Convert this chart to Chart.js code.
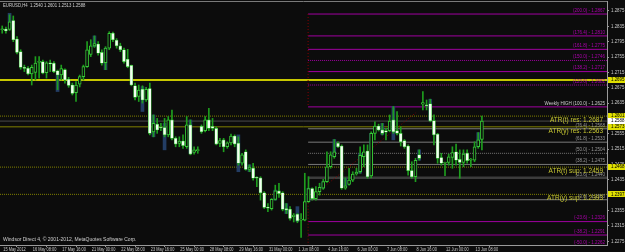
<!DOCTYPE html>
<html>
<head>
<meta charset="utf-8">
<script src="https://cdn.jsdelivr.net/npm/chart.js@4.4.1/dist/chart.umd.min.js"></script>
<style>
  html, body { margin: 0; padding: 0; background: #0c0c0c; overflow: hidden; }
  #wrap { width: 625px; height: 252px; position: relative; }
</style>
</head>
<body>
<div id="wrap"><canvas id="myChart"></canvas></div>
<script>
// EURUSD H4, 15 May 2012 - 13 Jun 2012
const tickLabels = ["15 May 2012", "16 May 08:00", "17 May 16:00", "21 May 00:00", "22 May 08:00", "23 May 16:00",
  "25 May 00:00", "28 May 08:00", "29 May 16:00", "31 May 00:00", "1 Jun 08:00", "4 Jun 16:00", "6 Jun 00:00",
  "7 Jun 08:00", "8 Jun 16:00", "12 Jun 00:00", "13 Jun 08:00"];

const opens = [1.2826, 1.2828, 1.2827, 1.2850, 1.2802, 1.2769, 1.2728, 1.2726, 1.2711, 1.2715,
  1.2741, 1.2743, 1.2714, 1.2740, 1.2739, 1.2719, 1.2708, 1.2722, 1.2697, 1.2682,
  1.2662, 1.2684, 1.2704, 1.2730, 1.2762, 1.2784, 1.2789, 1.2767, 1.2740, 1.2778,
  1.2817, 1.2799, 1.2784, 1.2774, 1.2749, 1.2733, 1.2680, 1.2652, 1.2671, 1.2643,
  1.2673, 1.2560, 1.2580, 1.2572, 1.2571, 1.2552, 1.2591, 1.2543, 1.2530, 1.2536,
  1.2521, 1.2578, 1.2506, 1.2511, 1.2574, 1.2563, 1.2591, 1.2574, 1.2569, 1.2530,
  1.2539, 1.2521, 1.2531, 1.2549, 1.2530, 1.2478, 1.2508, 1.2462, 1.2465, 1.2441,
  1.2440, 1.2401, 1.2363, 1.2360, 1.2384, 1.2406, 1.2401, 1.2360, 1.2358, 1.2339,
  1.2345, 1.2330, 1.2330, 1.2378, 1.2412, 1.2386, 1.2404, 1.2413, 1.2430, 1.2469,
  1.2495, 1.2530, 1.2523, 1.2413, 1.2423, 1.2434, 1.2450, 1.2456, 1.2495, 1.2510,
  1.2445, 1.2556, 1.2575, 1.2565, 1.2563, 1.2563, 1.2591, 1.2563, 1.2556, 1.2537,
  1.2523, 1.2459, 1.2443, 1.2500, 1.2632, 1.2630, 1.2633, 1.2589, 1.2554, 1.2493,
  1.2478, 1.2480, 1.2493, 1.2508, 1.2488, 1.2480, 1.2504, 1.2486, 1.2486, 1.2521,
  1.2540];
const highs = [1.2836, 1.2833, 1.2865, 1.2862, 1.2808, 1.2774, 1.2734, 1.2730, 1.2734, 1.2756,
  1.2756, 1.2747, 1.2743, 1.2747, 1.2743, 1.2721, 1.2734, 1.2724, 1.2702, 1.2687,
  1.2691, 1.2708, 1.2734, 1.2795, 1.2800, 1.2810, 1.2795, 1.2774, 1.2782, 1.2821,
  1.2820, 1.2803, 1.2791, 1.2778, 1.2775, 1.2734, 1.2687, 1.2682, 1.2680, 1.2676,
  1.2687, 1.2604, 1.2595, 1.2582, 1.2595, 1.2600, 1.2617, 1.2547, 1.2547, 1.2552,
  1.2600, 1.2591, 1.2521, 1.2521, 1.2578, 1.2600, 1.2621, 1.2595, 1.2573, 1.2543,
  1.2543, 1.2534, 1.2554, 1.2552, 1.2547, 1.2504, 1.2513, 1.2474, 1.2478, 1.2443,
  1.2443, 1.2404, 1.2373, 1.2386, 1.2421, 1.2426, 1.2404, 1.2373, 1.2365, 1.2347,
  1.2347, 1.2347, 1.2452, 1.2443, 1.2414, 1.2417, 1.2426, 1.2436, 1.2508, 1.2508,
  1.2540, 1.2534, 1.2526, 1.2440, 1.2465, 1.2456, 1.2465, 1.2521, 1.2526, 1.2526,
  1.2560, 1.2586, 1.2580, 1.2582, 1.2569, 1.2604, 1.2626, 1.2613, 1.2573, 1.2540,
  1.2526, 1.2482, 1.2491, 1.2513, 1.2665, 1.2643, 1.2645, 1.2604, 1.2556, 1.2504,
  1.2481, 1.2502, 1.2521, 1.2528, 1.2513, 1.2513, 1.2513, 1.2491, 1.2534, 1.2558,
  1.2601];
const lows = [1.2817, 1.2817, 1.2824, 1.2795, 1.2763, 1.2723, 1.2717, 1.2708, 1.2682, 1.2695,
  1.2700, 1.2711, 1.2700, 1.2717, 1.2714, 1.2670, 1.2695, 1.2687, 1.2676, 1.2656,
  1.2639, 1.2677, 1.2695, 1.2728, 1.2756, 1.2780, 1.2760, 1.2734, 1.2722, 1.2774,
  1.2795, 1.2778, 1.2769, 1.2739, 1.2727, 1.2680, 1.2643, 1.2639, 1.2635, 1.2639,
  1.2552, 1.2547, 1.2556, 1.2563, 1.2547, 1.2547, 1.2539, 1.2521, 1.2521, 1.2517,
  1.2517, 1.2500, 1.2502, 1.2504, 1.2556, 1.2560, 1.2563, 1.2563, 1.2526, 1.2521,
  1.2508, 1.2517, 1.2526, 1.2521, 1.2473, 1.2473, 1.2460, 1.2456, 1.2434, 1.2417,
  1.2382, 1.2360, 1.2352, 1.2356, 1.2382, 1.2389, 1.2354, 1.2347, 1.2330, 1.2325,
  1.2323, 1.2285, 1.2328, 1.2376, 1.2382, 1.2382, 1.2395, 1.2410, 1.2428, 1.2465,
  1.2491, 1.2519, 1.2410, 1.2410, 1.2421, 1.2430, 1.2447, 1.2452, 1.2469, 1.2439,
  1.2440, 1.2539, 1.2562, 1.2552, 1.2539, 1.2560, 1.2556, 1.2552, 1.2523, 1.2517,
  1.2447, 1.2439, 1.2430, 1.2486, 1.2617, 1.2617, 1.2586, 1.2526, 1.2478, 1.2473,
  1.2446, 1.2473, 1.2465, 1.2473, 1.2439, 1.2469, 1.2478, 1.2469, 1.2482, 1.2517,
  1.2513];
const closes = [1.2827, 1.2823, 1.2847, 1.2800, 1.2767, 1.2728, 1.2725, 1.2711, 1.2728, 1.2739,
  1.2743, 1.2713, 1.2740, 1.2737, 1.2717, 1.2708, 1.2725, 1.2695, 1.2681, 1.2660,
  1.2682, 1.2704, 1.2730, 1.2774, 1.2784, 1.2790, 1.2765, 1.2739, 1.2778, 1.2817,
  1.2800, 1.2784, 1.2774, 1.2743, 1.2730, 1.2682, 1.2650, 1.2669, 1.2643, 1.2671,
  1.2556, 1.2582, 1.2565, 1.2570, 1.2552, 1.2591, 1.2543, 1.2528, 1.2536, 1.2524,
  1.2578, 1.2502, 1.2513, 1.2513, 1.2560, 1.2591, 1.2569, 1.2569, 1.2528, 1.2537,
  1.2521, 1.2531, 1.2549, 1.2528, 1.2478, 1.2500, 1.2462, 1.2468, 1.2439, 1.2439,
  1.2401, 1.2363, 1.2361, 1.2384, 1.2406, 1.2399, 1.2358, 1.2356, 1.2334, 1.2343,
  1.2328, 1.2332, 1.2378, 1.2412, 1.2386, 1.2404, 1.2415, 1.2430, 1.2469, 1.2500,
  1.2508, 1.2521, 1.2413, 1.2419, 1.2434, 1.2450, 1.2455, 1.2499, 1.2508, 1.2443,
  1.2556, 1.2575, 1.2565, 1.2556, 1.2559, 1.2588, 1.2560, 1.2556, 1.2534, 1.2521,
  1.2459, 1.2443, 1.2486, 1.2491, 1.2636, 1.2628, 1.2589, 1.2552, 1.2491, 1.2478,
  1.2480, 1.2495, 1.2506, 1.2486, 1.2480, 1.2502, 1.2485, 1.2488, 1.2521, 1.2539,
  1.2588];

// dark blue shadow bars seen behind some candles
const shadowBars = [2, 15, 25, 28, 38, 41, 44, 51, 64, 67, 74, 77, 80, 83, 87, 90, 93, 97, 100, 103, 106, 113, 116, 129];
const shadowLows = [1.2830, 1.2665, 1.2782, 1.2722, 1.2613, 1.2547, 1.2513, 1.2504, 1.2456, 1.2456, 1.2382, 1.2347,
  1.2326, 1.2378, 1.2413, 1.2495, 1.2417, 1.2452, 1.2513, 1.2552, 1.2539, 1.2486, 1.2589, 1.2521];
const shadowHighs = [1.2869, 1.2708, 1.2810, 1.2778, 1.2678, 1.2604, 1.2582, 1.2591, 1.2552, 1.2474, 1.2408, 1.2373,
  1.2365, 1.2413, 1.2430, 1.2540, 1.2439, 1.2504, 1.2556, 1.2582, 1.2626, 1.2513, 1.2645, 1.2558];

// weekly fibo levels
const fibRatios = [200.0, 176.4, 161.8, 150.0, 138.2, 123.6, 100.0, 76.4, 61.8, 50.0, 38.2, 23.6, 0.0, -23.6, -38.2, -50.0];
const fibPrices = [1.2867, 1.2810, 1.2775, 1.2746, 1.2717, 1.2682, 1.2625, 1.2568, 1.2533, 1.2504, 1.2475, 1.2440,
  1.2383, 1.2326, 1.2291, 1.2262];

// ATR levels
const atrPrices = [1.2695, 1.2601, 1.2573, 1.2468, 1.2397];
const atrTexts = ["", "ATR(t) res: 1.2687", "ATR(y) res: 1.2563", "ATR(t) sup: 1.2459", "ATR(y) sup: 1.2393"];
const bidPrice = 1.2588;

const yTicks = [1.2875, 1.2835, 1.2795, 1.2755, 1.2715, 1.2675, 1.2635, 1.2595, 1.2555, 1.2515, 1.2475, 1.2435,
  1.2395, 1.2355, 1.2315, 1.2275];

// ---- layout of the terminal window ----
const X_MIN = -0.6, X_MAX = 163.9;
const Y_MIN = 1.2265, Y_MAX = 1.2901;
const FIB_START = 82.9;
const FONT = "Liberation Sans";

const bars = opens.map((o, i) => i);
const bull = opens.map((o, i) => closes[i] >= o);

const fibStyle = (r) => {
  if (r === 23.6) return { color: "#3c3c3c", width: 2.5, dash: [] };
  const ext = r >= 100 || r < 0;
  const dotted = r === 150.0 || r === 123.6 || r === 50.0;
  return { color: ext ? "#a000a0" : "#7a7a7a", width: 1, dash: dotted ? [1, 1] : [] };
};
const atrStyle = [
  { color: "#c8c800", width: 2, dash: [] },
  { color: "#808000", width: 1, dash: [1, 1] },
  { color: "#808000", width: 1, dash: [] },
  { color: "#808000", width: 1, dash: [1, 1] },
  { color: "#808000", width: 1, dash: [1, 1] },
];

const hLine = (x0, x1, y, st, order) => ({
  type: "line",
  data: [{ x: x0, y: y }, { x: x1, y: y }],
  borderColor: st.color,
  borderWidth: st.width,
  borderDash: st.dash,
  pointRadius: 0,
  order: order,
});

const datasets = [];
// levels behind the candles
fibPrices.forEach((p, i) => datasets.push(hLine(FIB_START, X_MAX, p, fibStyle(fibRatios[i]), 10)));
atrPrices.forEach((p, i) => datasets.push(hLine(X_MIN, X_MAX, p, atrStyle[i], 9)));
datasets.push(hLine(X_MIN, X_MAX, bidPrice, { color: "#4a4a4a", width: 1, dash: [] }, 9));
// week separator + trend line (dotted dark red)
datasets.push({
  type: "line",
  data: [{ x: FIB_START, y: fibPrices[0] }, { x: FIB_START, y: fibPrices[6] }],
  borderColor: "#8b0000", borderWidth: 1, borderDash: [1, 2], pointRadius: 0, order: 8,
});
datasets.push({
  type: "line",
  data: [{ x: FIB_START, y: fibPrices[12] }, { x: FIB_START, y: Y_MIN }],
  borderColor: "#8b0000", borderWidth: 1, borderDash: [1, 2], pointRadius: 0, order: 8,
});
datasets.push({
  type: "line",
  data: [{ x: FIB_START, y: fibPrices[12] }, { x: 112.1, y: 1.2610 }],
  borderColor: "#8b0000", borderWidth: 1, borderDash: [1, 2], pointRadius: 0, order: 8,
});

datasets.push({
  label: "shadow",
  data: shadowBars.map((b, k) => ({ x: b, y: [shadowLows[k], shadowHighs[k]] })),
  backgroundColor: "rgba(38,66,110,0.9)",
  barThickness: 3,
  grouped: false,
  order: 4,
});
datasets.push({
  label: "wick",
  data: bars.map((i) => ({ x: i, y: [lows[i], highs[i]] })),
  backgroundColor: "#1e9e1e",
  barThickness: 1,
  grouped: false,
  order: 3,
});
datasets.push({
  label: "body",
  data: bars.map((i) => ({ x: i, y: [opens[i], closes[i]] })),
  backgroundColor: bull.map((b) => (b ? "#0c0c0c" : "#f2fff0")),
  borderColor: "#36c836",
  borderWidth: bull.map((b) => (b ? 1 : 0.6)),
  borderSkipped: false,
  barThickness: 3,
  minBarLength: 1,
  grouped: false,
  order: 2,
});

// draw text squeezed horizontally, like the terminal's narrow font
const squeezed = (c, text, x, y, sx) => {
  c.save();
  c.translate(x, y);
  c.scale(sx, 1);
  c.fillText(text, 0, 0);
  c.restore();
};

const mt4 = {
  id: "mt4",
  beforeDraw(chart) {
    const c = chart.ctx;
    c.save();
    c.fillStyle = "#0c0c0c";
    c.fillRect(0, 0, chart.width, chart.height);
    c.restore();
  },
  afterDatasetsDraw(chart) {
    const c = chart.ctx;
    const ya = chart.scales.y;
    const area = chart.chartArea;
    c.save();
    // fibo labels
    c.font = "5px " + FONT;
    c.textAlign = "right";
    c.textBaseline = "bottom";
    fibPrices.forEach((p, i) => {
      const r = fibRatios[i];
      const pre = r === 100 ? "Weekly HIGH " : "";
      c.fillStyle = r >= 100 || r < 0 ? (r === 100 ? "#d0d0d0" : "#b000b0") : "#9a9a9a";
      squeezed(c, pre + "(" + r.toFixed(1) + ") - " + p.toFixed(4), area.right - 2, ya.getPixelForValue(p) - 1, 0.9);
    });
    // ATR labels
    c.font = "6.5px " + FONT;
    c.textBaseline = "top";
    c.fillStyle = "#c8c832";
    atrTexts.forEach((t, i) => {
      if (t) c.fillText(t, area.right - 4, ya.getPixelForValue(atrPrices[i]) + 1);
    });
    // header and footer
    c.textAlign = "left";
    c.font = "5px " + FONT;
    c.fillStyle = "#d0d0d0";
    c.textBaseline = "top";
    const last = opens.length - 1;
    squeezed(c, "EURUSD,H4  " + [opens[last], highs[last], lows[last], closes[last]].map((v) => v.toFixed(4)).join(" "), 3, 3, 0.85);
    c.textBaseline = "bottom";
    c.fillText("Windsor Direct 4, \u00a9 2001-2012, MetaQuotes Software Corp.", 3, area.bottom - 3);
    // top frame line
    c.strokeStyle = "#7a7a7a";
    c.lineWidth = 1;
    c.beginPath();
    c.moveTo(area.left, area.top + 0.5);
    c.lineTo(area.right, area.top + 0.5);
    c.stroke();
    c.restore();
  },
  afterDraw(chart) {
    const c = chart.ctx;
    const ya = chart.scales.y;
    const xa = chart.scales.x;
    const x0 = chart.chartArea.right + 1;
    c.save();
    c.font = "5px " + FONT;
    c.textAlign = "left";
    c.textBaseline = "middle";
    // time labels
    c.fillStyle = "#c8c8c8";
    tickLabels.forEach((t, k) => squeezed(c, t, xa.getPixelForValue(k * 8) + 1, chart.chartArea.bottom + 4.5, 0.78));
    // price labels
    yTicks.forEach((v) => squeezed(c, v.toFixed(4), x0 + 3, ya.getPixelForValue(v), 0.88));
    // highlighted prices
    const boxes = atrPrices.map((p) => [p, "#e0e000"]).concat([[bidPrice, "#ffffff"]]);
    boxes.forEach(([p, col]) => {
      const y = ya.getPixelForValue(p);
      c.fillStyle = col;
      c.fillRect(x0, Math.round(y) - 3, chart.width - x0, 6);
      c.fillStyle = "#000000";
      squeezed(c, p.toFixed(4), x0 + 3, y, 0.88);
    });
    c.restore();
  },
};

const config = {
  type: "bar",
  data: { datasets: datasets },
  options: {
    responsive: false,
    animation: false,
    events: [],
    layout: { padding: { top: 1, left: 0, right: 0, bottom: 0 } },
    plugins: { legend: { display: false }, tooltip: { enabled: false } },
    scales: {
      x: {
        type: "linear",
        min: X_MIN,
        max: X_MAX,
        offset: false,
        afterBuildTicks: (s) => { s.ticks = tickLabels.map((t, k) => ({ value: k * 8 })); },
        afterFit: (s) => { s.height = 7; },
        grid: { drawOnChartArea: false, color: "#9a9a9a", tickLength: 2 },
        border: { color: "#9a9a9a" },
        ticks: { display: false },
      },
      y: {
        type: "linear",
        position: "right",
        min: Y_MIN,
        max: Y_MAX,
        afterBuildTicks: (s) => { s.ticks = yTicks.map((v) => ({ value: v })); },
        afterFit: (s) => { s.width = 18; },
        grid: { drawOnChartArea: false, color: "#9a9a9a", tickLength: 2 },
        border: { color: "#9a9a9a" },
        ticks: { display: false },
      },
    },
  },
  plugins: [mt4],
};

const canvas = document.getElementById("myChart");
canvas.width = 625;
canvas.height = 252;
new Chart(canvas.getContext("2d"), config);
</script>
</body>
</html>
